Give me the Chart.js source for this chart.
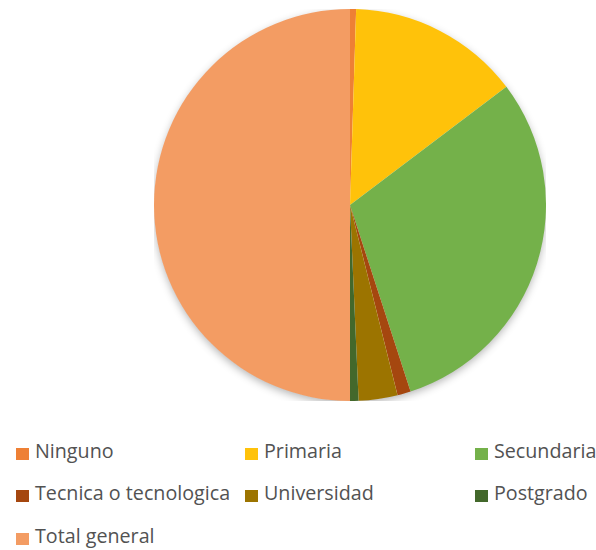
<!DOCTYPE html>
<html>
<head>
<meta charset="utf-8">
<script src="https://cdn.jsdelivr.net/npm/chart.js@4.4.1/dist/chart.umd.min.js"></script>
<style>
  html, body { margin: 0; padding: 0; background: #fff; }
  #wrap { position: relative; width: 596px; height: 550px; overflow: hidden; }
  #pieBox { position: absolute; left: 154px; top: 9px; width: 392px; height: 392px; }
  .lg { position: absolute; font-family: "Open Sans", "Noto Sans", sans-serif; font-size: 19.7px; color: #525252; white-space: nowrap; line-height: 26px; height: 26px; }
  .lg span.box { position: absolute; left: 0; top: 10px; width: 13px; height: 12px; }
  .lg span.txt { position: absolute; left: 19px; top: 0; }
</style>
</head>
<body>
<div id="wrap">
  <div id="pieBox"><canvas id="c"></canvas></div>
  <div id="legend"></div>
</div>
<script>
const categories = ["Ninguno", "Primaria", "Secundaria", "Tecnica o tecnologica", "Universidad", "Postgrado", "Total general"];
const values = [5, 142, 303, 11, 32, 7, 500];
const colors = ["#EE8035", "#FFC20A", "#74B14A", "#A5470F", "#9C7400", "#43682B", "#F39C63"];

// legend layout (column/row positions)
const legendPos = [
  [16, 438], [245, 438], [475, 438],
  [16, 480], [245, 480], [475, 480],
  [16, 523]
];

const shadowPlugin = {
  id: 'pieShadow',
  beforeDatasetsDraw(chart) {
    const meta = chart.getDatasetMeta(0);
    if (!meta.data.length) return;
    const a = meta.data[0];
    const ctx = chart.ctx;
    ctx.save();
    ctx.shadowColor = 'rgba(0,0,0,0.3)';
    ctx.shadowBlur = 8;
    ctx.shadowOffsetY = 3;
    ctx.fillStyle = '#ffffff';
    ctx.beginPath();
    ctx.arc(a.x, a.y, a.outerRadius - 0.5, 0, Math.PI * 2);
    ctx.fill();
    ctx.restore();
  }
};

new Chart(document.getElementById('c'), {
  type: 'pie',
  data: {
    labels: categories,
    datasets: [{ data: values, backgroundColor: colors, borderWidth: 0 }]
  },
  options: {
    responsive: true,
    maintainAspectRatio: false,
    animation: false,
    layout: { padding: 0 },
    plugins: { legend: { display: false }, tooltip: { enabled: false } }
  },
  plugins: [shadowPlugin]
});

const lg = document.getElementById('legend');
categories.forEach((name, i) => {
  const d = document.createElement('div');
  d.className = 'lg';
  d.style.left = legendPos[i][0] + 'px';
  d.style.top = legendPos[i][1] + 'px';
  d.innerHTML = '<span class="box" style="background:' + colors[i] + '"></span><span class="txt"></span>';
  d.querySelector('.txt').textContent = name;
  lg.appendChild(d);
});
</script>
</body>
</html>
